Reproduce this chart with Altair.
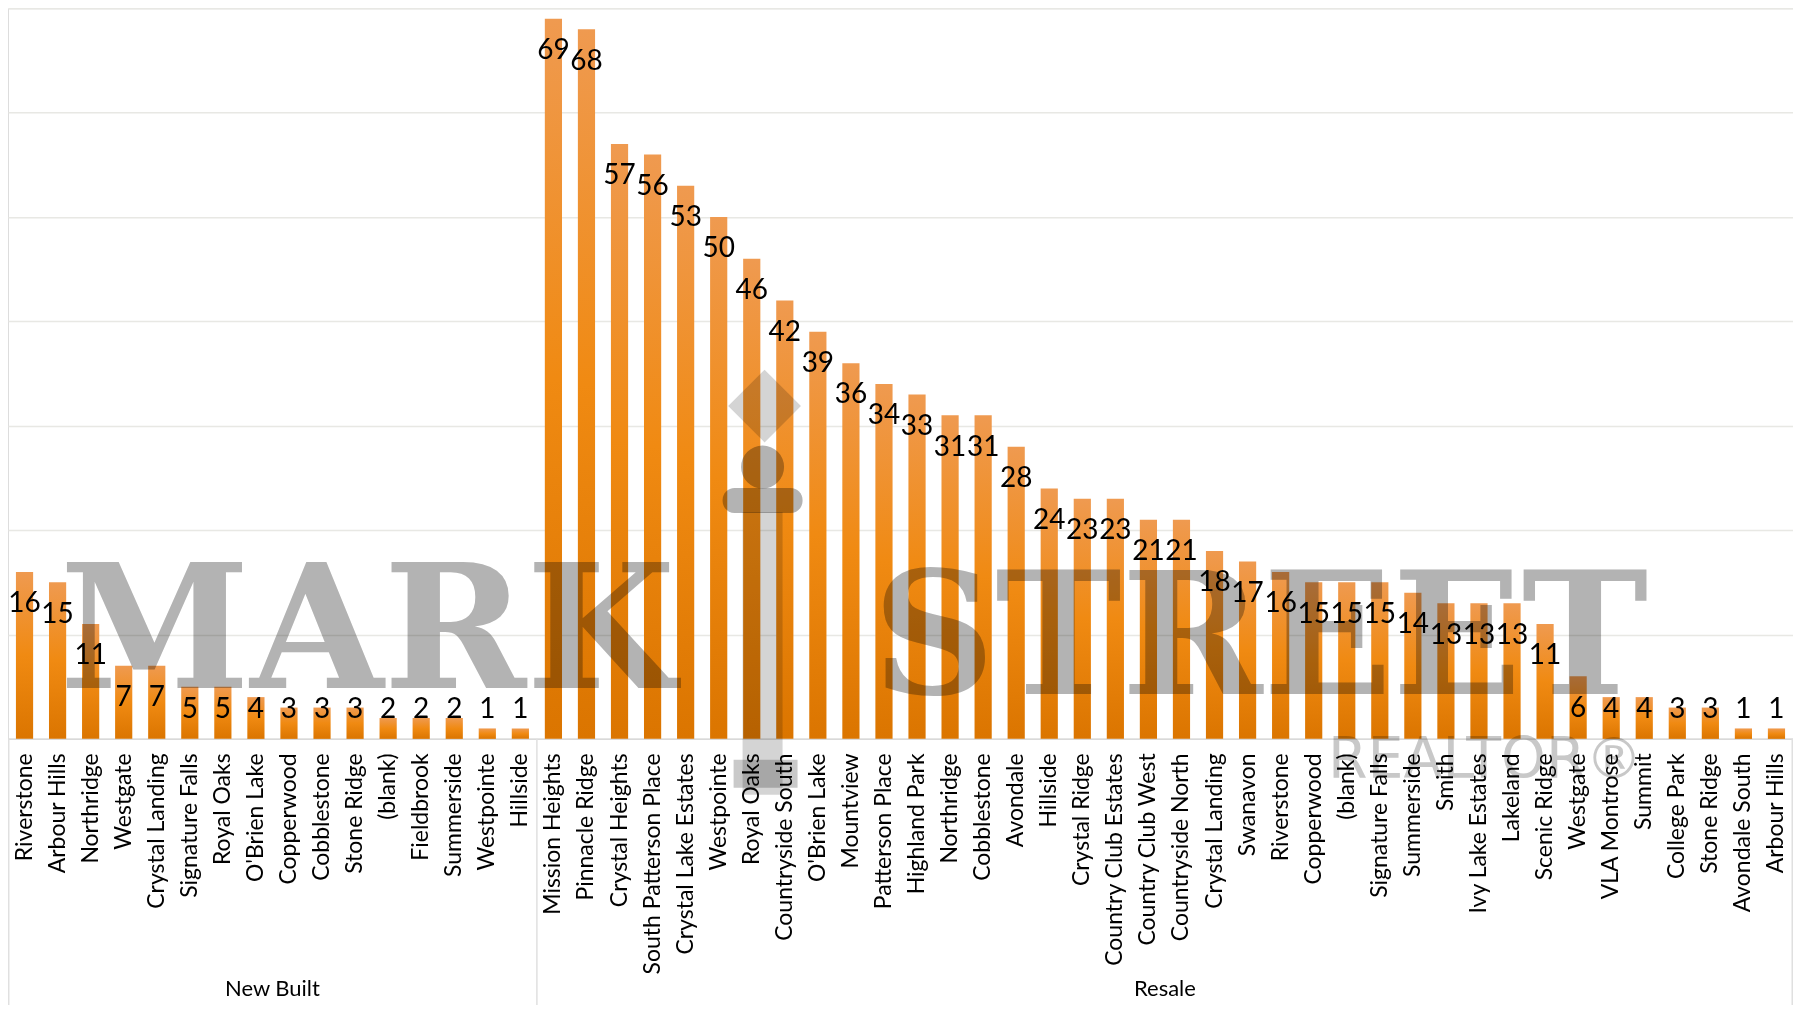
import altair as alt
import pandas as pd

# ---- data ----
new_names = ["Riverstone", "Arbour Hills", "Northridge", "Westgate", "Crystal Landing",
             "Signature Falls", "Royal Oaks", "O'Brien Lake", "Copperwood", "Cobblestone",
             "Stone Ridge", "(blank)", "Fieldbrook", "Summerside", "Westpointe", "Hillside"]
new_values = [16, 15, 11, 7, 7, 5, 5, 4, 3, 3, 3, 2, 2, 2, 1, 1]

resale_names = ["Mission Heights", "Pinnacle Ridge", "Crystal Heights", "South Patterson Place",
                "Crystal Lake Estates", "Westpointe", "Royal Oaks", "Countryside South",
                "O'Brien Lake", "Mountview", "Patterson Place", "Highland Park", "Northridge",
                "Cobblestone", "Avondale", "Hillside", "Crystal Ridge", "Country Club Estates",
                "Country Club West", "Countryside North", "Crystal Landing", "Swanavon",
                "Riverstone", "Copperwood", "(blank)", "Signature Falls", "Summerside", "Smith",
                "Ivy Lake Estates", "Lakeland", "Scenic Ridge", "Westgate", "VLA Montrose",
                "Summit", "College Park", "Stone Ridge", "Avondale South", "Arbour Hills"]
resale_values = [69, 68, 57, 56, 53, 50, 46, 42, 39, 36, 34, 33, 31, 31, 28, 24, 23, 23,
                 21, 21, 18, 17, 16, 15, 15, 15, 14, 13, 13, 13, 11, 6, 4, 4, 3, 3, 1, 1]

groups = ["New Built", "Resale"]

rows = []
for g, names, vals in [(groups[0], new_names, new_values), (groups[1], resale_names, resale_values)]:
    for n, v in zip(names, vals):
        rows.append({"group": g, "name": n, "value": v, "key": g + "|" + n})
df = pd.DataFrame(rows)
df["order"] = range(len(df))
keys = list(df["key"])

W, H = 1786, 731
FONT = "Lato"

grad = alt.Gradient(
    gradient="linear",
    stops=[alt.GradientStop(color="#EF9A50", offset=0),
           alt.GradientStop(color="#F08A12", offset=0.5),
           alt.GradientStop(color="#DB7500", offset=1)],
    x1=0, x2=0, y1=0, y2=1,
)

xenc = alt.X(
    "key:N", sort=keys,
    scale=alt.Scale(paddingInner=0, paddingOuter=0),
    axis=alt.Axis(title=None, labelAngle=-90, labelExpr="split(datum.value, '|')[1]",
                  ticks=False, domain=True, domainColor="#D9D9D9", domainWidth=1.5,
                  labelFont=FONT, labelFontSize=23, labelColor="#000000",
                  labelPadding=14, labelLimit=400, labelOverlap=False, grid=False),
)
yenc = alt.Y(
    "value:Q",
    scale=alt.Scale(domain=[0, 70], nice=False),
    axis=alt.Axis(title=None, labels=False, ticks=False, domain=False, grid=True,
                  gridColor="#E8E8E4", gridWidth=1.5, values=list(range(0, 80, 10))),
)

base = alt.Chart(df)

bars = base.mark_bar(width=alt.RelativeBandSize(0.52), color=grad).encode(x=xenc, y=yenc)

labels = base.transform_calculate(
    ly="max(datum.value - 3.1, 2.8)"
).mark_text(font=FONT, fontSize=28, color="#000000", baseline="middle").encode(
    x=alt.X("key:N", sort=keys),
    y=alt.Y("ly:Q"),
    text="value:Q",
)

ranked = base.transform_window(
    idx="row_number()", groupby=["group"], sort=[alt.SortField("order")]
).transform_joinaggregate(n="count()", groupby=["group"])

group_labels = ranked.transform_filter(
    "datum.idx == floor(datum.n / 2) + 1"
).mark_text(font=FONT, fontSize=22, color="#000000", baseline="middle").encode(
    x=alt.X("key:N", sort=keys, bandPosition=0),
    y=alt.value(H + 250),
    text="group:N",
)

divider = ranked.transform_filter(
    "datum.idx == 1 && datum.group != '" + groups[0] + "'"
).mark_rule(color="#E0E0E0", strokeWidth=1.5).encode(
    x=alt.X("key:N", sort=keys, bandPosition=0),
    y=alt.value(H), y2=alt.value(H + 300),
)

one = pd.DataFrame({"t": [1]})
edge_left = alt.Chart(one).mark_rule(color="#E0E0E0", strokeWidth=1.5).encode(
    x=alt.value(0.75), y=alt.value(H), y2=alt.value(H + 300))
edge_right = alt.Chart(one).mark_rule(color="#E0E0E0", strokeWidth=1.5).encode(
    x=alt.value(W - 0.75), y=alt.value(H), y2=alt.value(H + 300))

DARK = "#B3B3B3"
LIGHT = "#D4D4D4"
wm_mark = alt.Chart(one).mark_text(text="MARK", font="DejaVu Serif", fontWeight="bold",
                                   fontSize=172, color=DARK, blend="multiply",
                                   baseline="alphabetic").encode(
    x=alt.value(360), y=alt.value(680))
wm_street = alt.Chart(one).mark_text(text="STREET", font="DejaVu Serif", fontWeight="bold",
                                     fontSize=170, color=DARK, blend="multiply",
                                     baseline="alphabetic").encode(
    x=alt.value(1253), y=alt.value(686))
wm_realtor = alt.Chart(one).mark_text(text="REALTOR®", font="DejaVu Sans",
                                      fontSize=57, color="#C8C8C8", blend="multiply",
                                      baseline="alphabetic").encode(
    x=alt.value(1478), y=alt.value(770))
key_shaft = alt.Chart(one).mark_rect(color=LIGHT, blend="multiply").encode(
    x=alt.value(735), x2=alt.value(775), y=alt.value(504), y2=alt.value(787))
key_block = alt.Chart(one).mark_rect(color="#C9C9C9", blend="multiply").encode(
    x=alt.value(726), x2=alt.value(790), y=alt.value(752), y2=alt.value(780))
key_bar = alt.Chart(one).mark_rect(color=DARK, blend="multiply", cornerRadius=12).encode(
    x=alt.value(715), x2=alt.value(795), y=alt.value(480), y2=alt.value(505))
key_circle = alt.Chart(one).mark_point(shape="circle", filled=True, opacity=1, size=1850,
                                       color=DARK, blend="multiply").encode(
    x=alt.value(755), y=alt.value(459))
key_diamond = alt.Chart(one).mark_point(shape="diamond", filled=True, opacity=1, size=5300,
                                        color=LIGHT, blend="multiply").encode(
    x=alt.value(757), y=alt.value(398))

chart = alt.layer(
    bars, labels, group_labels, divider, edge_left, edge_right,
    key_shaft, key_block, key_bar, key_circle, key_diamond,
    wm_mark, wm_street, wm_realtor,
).properties(
    width=W, height=H,
    autosize=alt.AutoSizeParams(type="none"),
    padding={"left": 0, "top": 0, "right": 0, "bottom": 266},
).configure_view(stroke=None).configure(background="white")

chart.save("out.html", embed_options={"renderer": "svg", "actions": False})
